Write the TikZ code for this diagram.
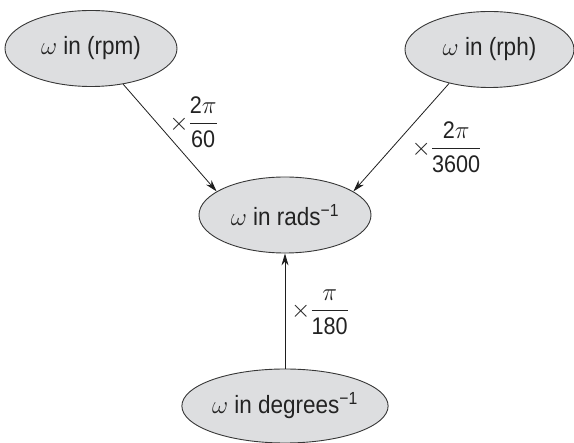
\documentclass[tikz,border=0pt]{standalone}
\usepackage{amsmath}
\usepackage{fontspec}
\setmainfont[FakeStretch=0.9]{Liberation Sans}
\usetikzlibrary{arrows.meta,shapes.geometric}
\definecolor{ellfill}{RGB}{221,222,224}
\definecolor{ellline}{RGB}{55,55,55}
\definecolor{arrline}{RGB}{30,30,30}
\definecolor{txt}{RGB}{35,35,35}
\tikzset{
  unitbox/.style={ellipse, draw=ellline, fill=ellfill, line width=0.9pt, inner sep=0pt,
    minimum width=172pt, minimum height=76pt, text=txt, font=\fontsize{25}{29}\selectfont},
  conv/.style={draw=arrline, line width=0.8pt, -{Stealth[length=12pt,width=7pt]}},
  convlabel/.style={inner sep=0pt, text=txt, font=\fontsize{24}{28}\selectfont}
}
\begin{document}
\begin{tikzpicture}[x=1pt,y=-1pt]
\useasboundingbox (0,0) rectangle (574,443);
\node[unitbox] (rpm) at (91,48.5) {$\omega$ in (rpm)};
\node[unitbox, minimum width=169pt] (rph) at (489.5,49.5) {$\omega$ in (rph)};
\node[unitbox] (rads) at (285,215) {$\omega$ in rads\textsuperscript{−1}};
\node[unitbox, minimum height=74pt] (deg) at (285,406) {$\omega$ in degrees\textsuperscript{−1}};
\draw[conv] (rpm.-48.5) -- (rads.161);
\draw[conv] (rph.220.3) -- (rads.19);
\draw[conv] (deg.north) -- (rads.south);
\node[convlabel] (l1) at (193.5,122) {$\times\dfrac{\text{2}\pi}{\text{60}}$};
\node[convlabel] (l2) at (446.5,147) {$\times\dfrac{\text{2}\pi}{\text{3600}}$};
\node[convlabel] (l3) at (320,312) {$\times\dfrac{\pi}{\text{180}}$};
\end{tikzpicture}
\end{document}
